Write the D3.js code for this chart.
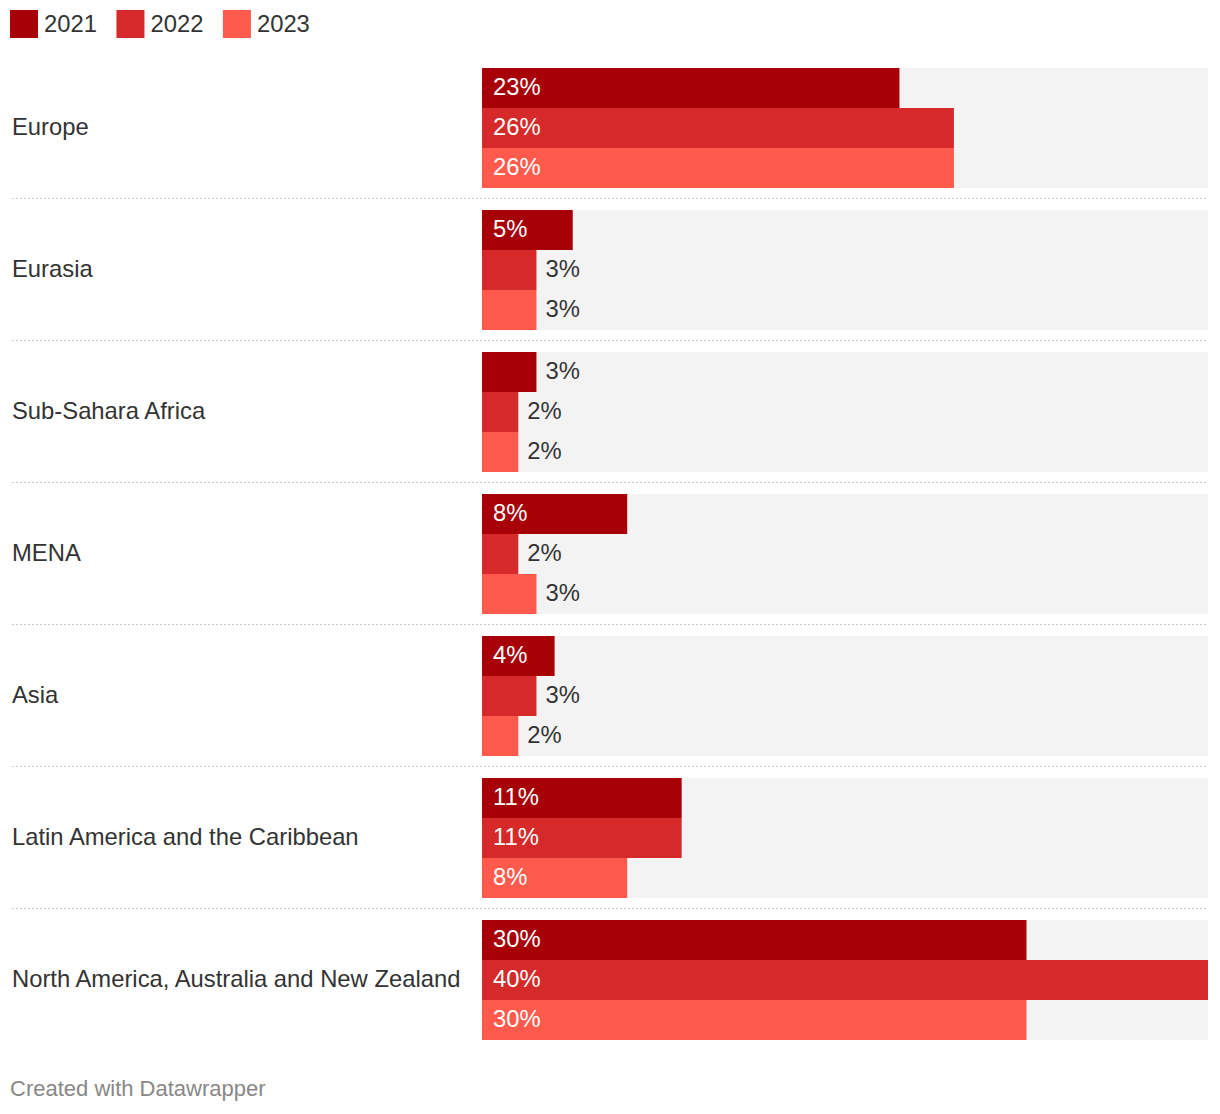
<!DOCTYPE html>
<html><head><meta charset="utf-8">
<script src="https://cdn.jsdelivr.net/npm/d3@7"></script>
<style>body{margin:0;background:#fff;font-family:"Liberation Sans",Arial,Helvetica,sans-serif;}</style>
</head><body>
<svg id="c" width="1220" height="1114"></svg>
<script>
const categories = ["Europe","Eurasia","Sub-Sahara Africa","MENA","Asia","Latin America and the Caribbean","North America, Australia and New Zealand"];
const seriesNames = ["2021","2022","2023"];
const v2021 = [23,5,3,8,4,11,30];
const v2022 = [26,3,2,2,3,11,40];
const v2023 = [26,3,2,3,2,8,30];
const colors = ["#a80007","#d62929","#ff5a4b"];

const series = [v2021,v2022,v2023];
const svg = d3.select("#c");
const font = '"Liberation Sans",Arial,Helvetica,sans-serif';
const fs = 23.8;

// legend
let lx = 10;
seriesNames.forEach((s,i)=>{
  svg.append("rect").attr("x",lx).attr("y",10).attr("width",28).attr("height",28).attr("fill",colors[i]);
  const t = svg.append("text").attr("x",lx+34).attr("y",32).attr("font-size",fs).attr("fill","#333").attr("font-family",font).text(s);
  lx += 34 + t.node().getComputedTextLength() + 19.5;
});

const x = d3.scaleLinear().domain([0,40]).range([482,1208]);
const yGroup = d3.scaleBand().domain(categories).range([68,1040]).paddingInner(22/142).paddingOuter(0);
const yInner = d3.scaleBand().domain(seriesNames).range([0,yGroup.bandwidth()]);

categories.forEach((cat,ci)=>{
  const g0 = yGroup(cat);
  svg.append("rect").attr("x",x(0)).attr("y",g0).attr("width",x(40)-x(0)).attr("height",yGroup.bandwidth()).attr("fill","#f3f3f3");
  if (ci>0) {
    svg.append("line").attr("x1",12).attr("x2",1208).attr("y1",g0-11.5).attr("y2",g0-11.5)
      .attr("stroke","#c8c8c8").attr("stroke-width",1).attr("stroke-dasharray","2,2");
  }
  svg.append("text").attr("x",12).attr("y",g0+yGroup.bandwidth()/2).attr("dy","0.28em")
    .attr("font-size",fs).attr("fill","#333").attr("font-family",font).text(cat);
  seriesNames.forEach((s,si)=>{
    const val = series[si][ci];
    const yy = g0 + yInner(s);
    svg.append("rect").attr("x",x(0)).attr("y",yy).attr("width",x(val)-x(0)).attr("height",yInner.bandwidth()).attr("fill",colors[si]);
    const t = svg.append("text").attr("y",yy+yInner.bandwidth()/2).attr("dy","0.28em")
      .attr("font-size",fs).attr("font-family",font).text(val+"%");
    const tw = t.node().getComputedTextLength();
    const bw = x(val)-x(0);
    if (tw + 24 < bw) {
      t.attr("x",x(0)+11).attr("fill","#fff");
    } else {
      t.attr("x",x(val)+9).attr("fill","#333");
    }
  });
});

svg.append("text").attr("x",10).attr("y",1096).attr("font-size",22).attr("fill","#888").attr("font-family",font).text("Created with Datawrapper");
</script>
</body></html>
